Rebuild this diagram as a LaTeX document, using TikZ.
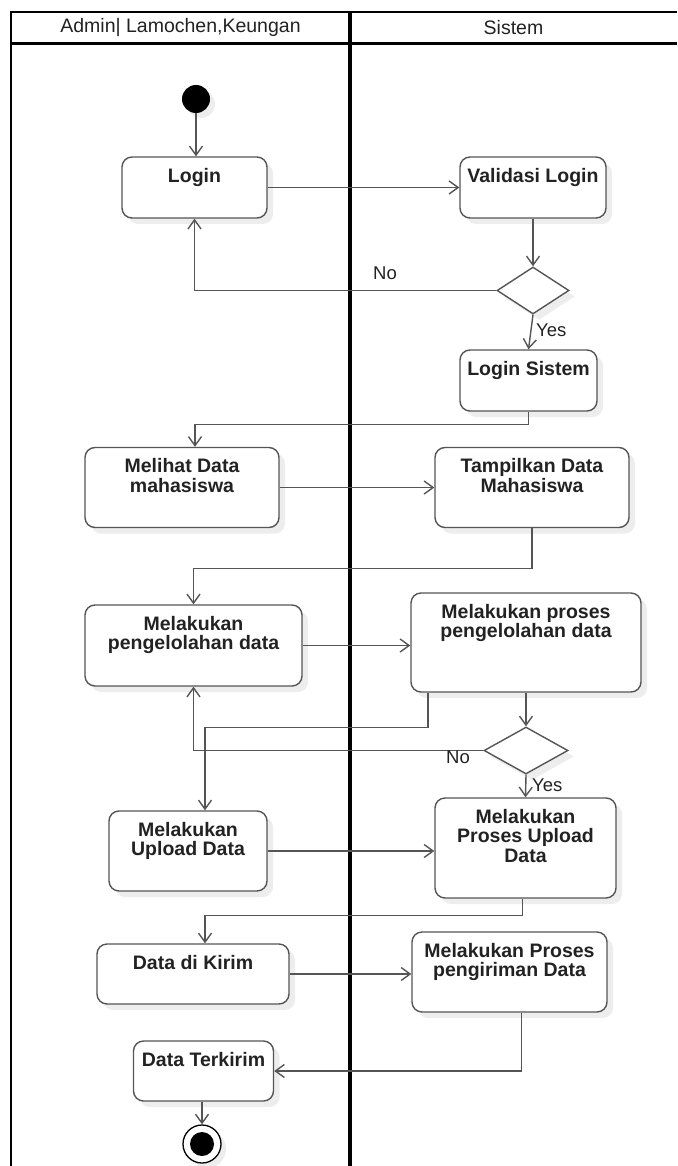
\documentclass[tikz,border=0pt]{standalone}
\usepackage{fontspec}
\setmainfont{Liberation Sans}
\usetikzlibrary{arrows.meta,shadows,calc,shapes.geometric}

\definecolor{edge}{HTML}{555555}
\definecolor{ink}{HTML}{222222}

\tikzset{
  act/.style={draw=edge, line width=1.4pt, fill=white, rounded corners=10pt,
    rectangle, inner sep=0pt,
    drop shadow={shadow xshift=6pt, shadow yshift=-6pt, fill=black, opacity=0.07}},
  boxtext/.style={anchor=north, inner sep=0pt, yshift=-11.5pt, text=ink,
    font=\fontsize{19.5}{19.5}\selectfont\bfseries, align=center},
  decision/.style={diamond, draw=edge, line width=1.4pt, fill=white, inner sep=0pt,
    drop shadow={shadow xshift=6pt, shadow yshift=-6pt, fill=black, opacity=0.07}},
  flow/.style={draw=edge, line width=1.4pt,
    -{Straight Barb[length=9pt, width=13pt, line width=1.4pt]}},
  guard/.style={text=ink, inner sep=0pt, font=\fontsize{18.5}{18.5}\selectfont},
  lane/.style={draw=black, line width=2.6pt},
  lanetitle/.style={text=ink, inner sep=0pt, font=\fontsize{19.5}{19.5}\selectfont},
}

\begin{document}
\begin{tikzpicture}[x=1pt, y=-1pt]
\useasboundingbox (0,0) rectangle (677,1166);

% swimlane frame
\draw[lane] (11,1166) -- (11,12) -- (677,12);
\draw[lane] (11,43.5) -- (677,43.5);
\draw[draw=black, line width=3.6pt] (350,12) -- (350,1166);
\node[lanetitle] (laneA) at (180.5,27.5) {Admin| Lamochen,Keungan};
\node[lanetitle] (laneB) at (513.5,27.5) {Sistem};

% initial and final states
\node[circle, fill=black, minimum size=28pt, inner sep=0pt,
  drop shadow={shadow xshift=5pt, shadow yshift=-5pt, fill=black, opacity=0.07}]
  (start) at (196,99) {};
\node[circle, draw=black, line width=1.3pt, fill=white, minimum size=38pt, inner sep=0pt,
  drop shadow={shadow xshift=5pt, shadow yshift=-5pt, fill=black, opacity=0.07}]
  (end) at (202,1144) {};
\node[circle, fill=black, minimum size=24pt, inner sep=0pt] (endcore) at (end) {};

% activities
\node[act, minimum width=145pt, minimum height=61pt, label={[boxtext]north:Login}]
  (login) at (194.5,187.5) {};
\node[act, minimum width=146pt, minimum height=61pt, label={[boxtext]north:Validasi Login}]
  (valid) at (533,187.5) {};
\node[act, minimum width=137pt, minimum height=61pt, label={[boxtext]north:Login Sistem}]
  (logsis) at (528.5,380.5) {};
\node[act, minimum width=194pt, minimum height=80pt, label={[boxtext]north:Melihat Data\\mahasiswa}]
  (melihat) at (182,487.5) {};
\node[act, minimum width=194pt, minimum height=80pt, label={[boxtext]north:Tampilkan Data\\Mahasiswa}]
  (tampil) at (532,487.5) {};
\node[act, minimum width=217pt, minimum height=81pt, label={[boxtext]north:Melakukan\\pengelolahan data}]
  (kelola) at (193.5,645.5) {};
\node[act, minimum width=230pt, minimum height=99pt, label={[boxtext]north:Melakukan proses\\pengelolahan data}]
  (proses) at (526,642.5) {};
\node[act, minimum width=158pt, minimum height=80pt, label={[boxtext]north:Melakukan\\Upload Data}]
  (upload) at (188,851) {};
\node[act, minimum width=181pt, minimum height=100pt, label={[boxtext]north:Melakukan\\Proses Upload\\Data}]
  (prupload) at (525.5,848) {};
\node[act, minimum width=192pt, minimum height=60pt, label={[boxtext]north:Data di Kirim}]
  (kirim) at (193,974) {};
\node[act, minimum width=195pt, minimum height=80pt, label={[boxtext]north:Melakukan Proses\\pengiriman Data}]
  (prkirim) at (509.5,972) {};
\node[act, minimum width=140pt, minimum height=60pt, label={[boxtext]north:Data Terkirim}]
  (terkirim) at (203.5,1071) {};

% decisions
\node[decision, minimum width=72pt, minimum height=47pt] (d1) at (533,290.5) {};
\node[decision, minimum width=84pt, minimum height=47pt] (d2) at (526,750.5) {};

% flows
\draw[flow] (start.south) -- (start.south |- login.north);
\draw[flow] (login.east) -- (valid.west);
\draw[flow] (valid.south) -- (d1.north);
\draw[flow] (d1.west) -| (login.south);
\node[guard] (no1) at (385,273) {No};
\draw[flow] (d1.south) -- (logsis.north);
\node[guard, anchor=west] (yes1) at (536,330) {Yes};
\draw[flow] (logsis.south) -- ++(0,13) -| ($(melihat.north)+(13,0)$);
\draw[flow] (melihat.east) -- (tampil.west);
\draw[flow] (tampil.south) -- ++(0,40) -| (kelola.north);
\draw[flow] (kelola.east) -- (kelola.east -| proses.west);
\draw[flow] ($(proses.south)+(-98,0)$) -- ++(0,35) -| ($(upload.north)+(17,0)$);
\draw[flow] (proses.south) -- (d2.north);
\draw[flow] (d2.west) -| (kelola.south);
\node[guard] (no2) at (458,757) {No};
\draw[flow] (d2.south) -- (prupload.north);
\node[guard, anchor=west] (yes2) at (532,785) {Yes};
\draw[flow] (upload.east) -- (upload.east -| prupload.west);
\draw[flow] ($(prupload.south)+(-3,0)$) -- ++(0,17) -| ($(kirim.north)+(12,0)$);
\draw[flow] (kirim.east) -- (kirim.east -| prkirim.west);
\draw[flow] ($(prkirim.south)+(12,0)$) |- (terkirim.east);
\draw[flow] (terkirim.south -| end.north) -- (end.north);
\end{tikzpicture}
\end{document}
